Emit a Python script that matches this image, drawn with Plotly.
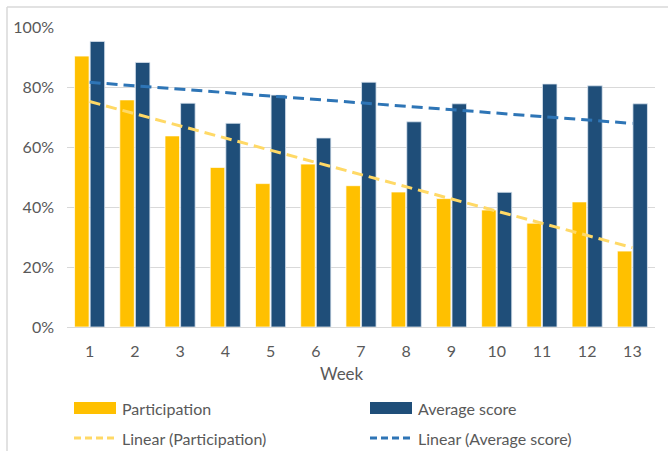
import numpy as np
import plotly.graph_objects as go

# Weekly figures (fractions of 1)
weeks = list(range(1, 14))
participation = [0.903, 0.757, 0.637, 0.532, 0.478, 0.543, 0.471, 0.450, 0.428, 0.390, 0.346, 0.417, 0.253]
average_score = [0.952, 0.882, 0.746, 0.679, 0.773, 0.630, 0.816, 0.684, 0.744, 0.449, 0.810, 0.804, 0.744]
y_ticks = [0, 0.2, 0.4, 0.6, 0.8, 1.0]
y_tick_text = ["0%", "20%", "40%", "60%", "80%", "100%"]

PART_COLOR = "#FFC000"
SCORE_COLOR = "#1F4E79"
PART_TREND = "#FFD966"
SCORE_TREND = "#2E75B6"
TEXT = "#595959"
GRID = "#D9D9D9"
FONT = "Lato"

# Plot-area geometry in pixels
W, H = 668, 451
L, R, T, B = 67, 655, 27, 327


def px(x):
    return (x - L) / (R - L)


def py(y):
    return (B - y) / (B - T)


# Least-squares trend lines
wk = np.array(weeks, dtype=float)
p_fit = np.polyfit(wk, participation, 1)
s_fit = np.polyfit(wk, average_score, 1)
trend_x = [weeks[0], weeks[-1]]

fig = go.Figure()
fig.add_trace(go.Bar(
    x=weeks, y=participation, name="Participation",
    marker=dict(color=PART_COLOR, line=dict(color="rgba(255,255,255,0.7)", width=1)),
))
fig.add_trace(go.Bar(
    x=weeks, y=average_score, name="Average score",
    marker=dict(color=SCORE_COLOR, line=dict(color="rgba(220,230,240,0.8)", width=1)),
))
fig.add_trace(go.Scatter(
    x=trend_x, y=list(np.polyval(p_fit, trend_x)), mode="lines",
    name="Linear (Participation)",
    line=dict(color=PART_TREND, width=3, dash="11px,6px"),
))
fig.add_trace(go.Scatter(
    x=trend_x, y=list(np.polyval(s_fit, trend_x)), mode="lines",
    name="Linear (Average score)",
    line=dict(color=SCORE_TREND, width=3, dash="11px,6px"),
))

shapes = [
    # chart-area border: top and left edges
    dict(type="line", xref="paper", yref="paper",
         x0=px(7), x1=px(W), y0=py(7), y1=py(7),
         line=dict(color=GRID, width=1.5), layer="below"),
    dict(type="line", xref="paper", yref="paper",
         x0=px(7), x1=px(7), y0=py(7), y1=py(H),
         line=dict(color=GRID, width=1.5), layer="below"),
    # blank strip along the right edge of the page
    dict(type="rect", xref="paper", yref="paper",
         x0=px(660), x1=px(W + 2), y0=py(H + 2), y1=py(8),
         fillcolor="white", line=dict(width=0)),
]
annotations = [
    dict(text="Week", xref="paper", yref="paper", x=px(342), y=py(373),
         showarrow=False, font=dict(family=FONT, size=17, color=TEXT),
         xanchor="center", yanchor="middle"),
]

# Legend drawn as two columns of swatches and labels
legend_items = [
    ("Participation", "bar", PART_COLOR, 74, 408),
    ("Average score", "bar", SCORE_COLOR, 370, 408),
    ("Linear (Participation)", "dash", PART_TREND, 74, 438),
    ("Linear (Average score)", "dash", SCORE_TREND, 370, 438),
]
for label, kind, color, x0, yc in legend_items:
    if kind == "bar":
        shapes.append(dict(type="rect", xref="paper", yref="paper",
                           x0=px(x0), x1=px(x0 + 42), y0=py(yc + 6), y1=py(yc - 6),
                           fillcolor=color, line=dict(width=0)))
    else:
        shapes.append(dict(type="line", xref="paper", yref="paper",
                           x0=px(x0), x1=px(x0 + 42), y0=py(yc), y1=py(yc),
                           line=dict(color=color, width=3, dash="7px,4px")))
    annotations.append(dict(text=label, xref="paper", yref="paper",
                            x=px(x0 + 46), y=py(yc), showarrow=False,
                            xanchor="left", yanchor="middle",
                            font=dict(family=FONT, size=16, color=TEXT)))

fig.update_layout(
    width=W, height=H,
    margin=dict(l=L, r=W - R, t=T, b=H - B),
    paper_bgcolor="white", plot_bgcolor="white",
    barmode="group", bargap=0.31, bargroupgap=0.07,
    showlegend=False,
    font=dict(family=FONT, color=TEXT, size=15),
    shapes=shapes, annotations=annotations,
)
fig.update_xaxes(
    range=[0.5, 13.5], tickmode="array", tickvals=weeks,
    ticktext=[str(w) for w in weeks], showgrid=False, zeroline=False,
    showline=True, linecolor=GRID, linewidth=1, ticks="",
    tickfont=dict(family=FONT, size=16, color=TEXT), ticklabelstandoff=10,
)
fig.update_yaxes(
    range=[0, 1.0], tickmode="array", tickvals=y_ticks, ticktext=y_tick_text,
    showgrid=True, gridcolor=GRID, gridwidth=1, zeroline=False, showline=False,
    tickfont=dict(family=FONT, size=16, color=TEXT), ticklabelstandoff=12,
)

fig.write_html("out.html")
